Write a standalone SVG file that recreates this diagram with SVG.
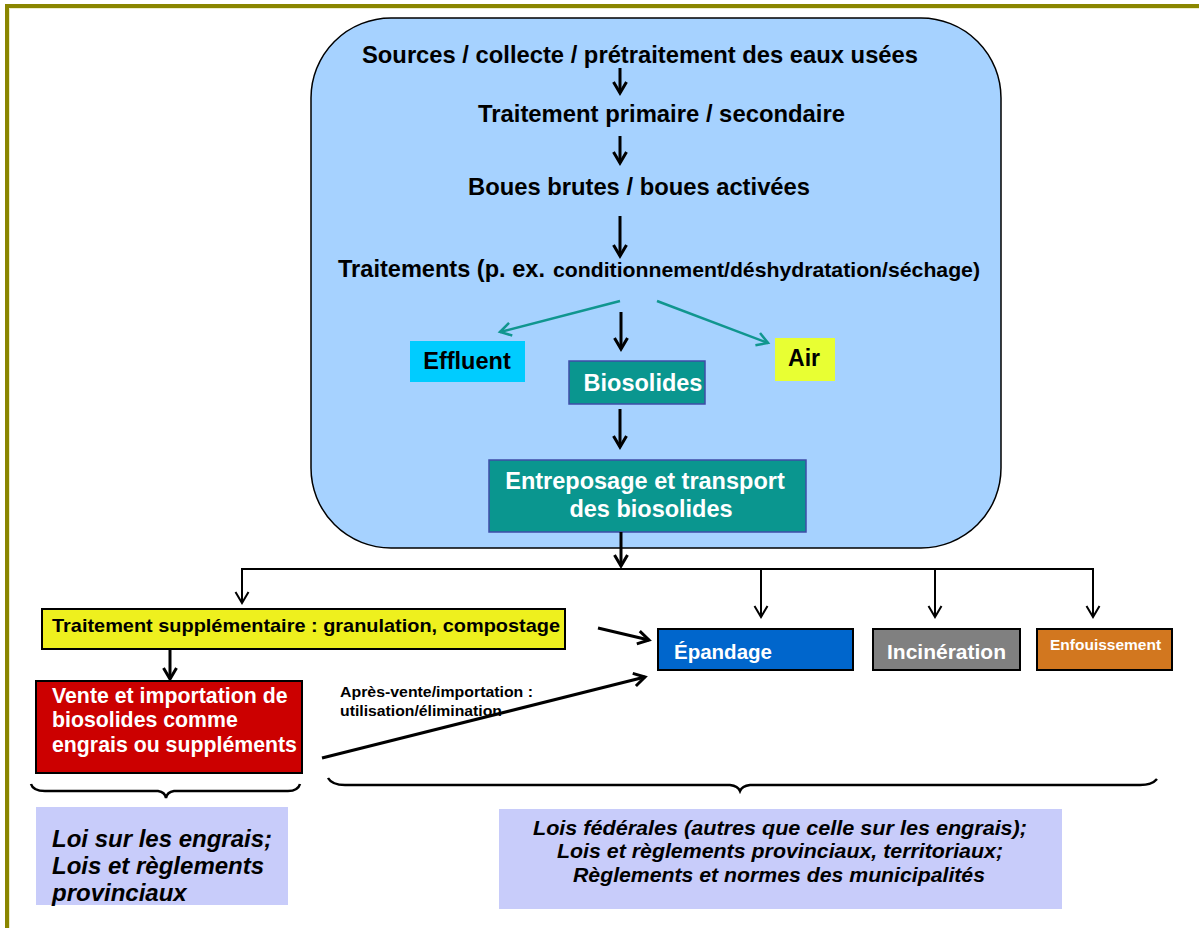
<svg xmlns="http://www.w3.org/2000/svg" width="1199" height="928" viewBox="0 0 1199 928">
<defs>
<style>
.h{font-family:"Liberation Sans",Arial,sans-serif;font-weight:bold;fill:#000}
.w{font-family:"Liberation Sans",Arial,sans-serif;font-weight:bold;fill:#fff}
.law{font-family:"Liberation Sans",Arial,sans-serif;font-weight:bold;font-style:italic;fill:#000}
.conn{stroke:#000;fill:none}
.thick{stroke-width:3}
.thin{stroke-width:2}
.teal{stroke:#10968F;stroke-width:2.5;fill:none}
</style>
<marker id="ak" markerUnits="userSpaceOnUse" markerWidth="16" markerHeight="16" refX="13" refY="8" orient="auto">
<path d="M2,1.5 L13,8 L2,14.5" fill="none" stroke="#000" stroke-width="3"/>
</marker>
<marker id="an" markerUnits="userSpaceOnUse" markerWidth="16" markerHeight="16" refX="13" refY="8" orient="auto">
<path d="M2,1.5 L13,8 L2,14.5" fill="none" stroke="#000" stroke-width="2"/>
</marker>
<marker id="at" markerUnits="userSpaceOnUse" markerWidth="16" markerHeight="16" refX="13" refY="8" orient="auto">
<path d="M2,1.5 L13,8 L2,14.5" fill="none" stroke="#10968F" stroke-width="2.5"/>
</marker>
</defs>
<rect width="1199" height="928" fill="#fff"/>
<path d="M7,930 L7,6 L1201,6" fill="none" stroke="#8A8600" stroke-width="4"/>
<path d="M9.5,930 L9.5,8.5 L1201,8.5" fill="none" stroke="#EDEDC8" stroke-width="1"/>

<g id="process-box">
<rect x="311" y="18" width="690" height="530" rx="80" ry="80" fill="#A6D2FF" stroke="#000" stroke-width="1.5"/>
</g>
<g id="sources"><text class="h" x="362" y="63" font-size="24" textLength="556" lengthAdjust="spacingAndGlyphs">Sources / collecte / prétraitement des eaux usées</text></g>
<g id="traitement-primaire"><text class="h" x="478" y="122" font-size="24" textLength="367" lengthAdjust="spacingAndGlyphs">Traitement primaire / secondaire</text></g>
<g id="boues"><text class="h" x="468" y="195" font-size="24" textLength="342" lengthAdjust="spacingAndGlyphs">Boues brutes / boues activées</text></g>
<g id="traitements">
<text class="h" x="338" y="277" font-size="24" textLength="207" lengthAdjust="spacingAndGlyphs">Traitements (p. ex.</text>
<text class="h" x="553" y="277" font-size="21" textLength="427" lengthAdjust="spacingAndGlyphs">conditionnement/déshydratation/séchage)</text>
</g>
<g id="effluent">
<rect x="410" y="341" width="115" height="41" fill="#00CCFF"/>
<text class="h" x="467" y="369" font-size="23.5" text-anchor="middle">Effluent</text>
</g>
<g id="air">
<rect x="775" y="338" width="60" height="43" fill="#E8FF33"/>
<text class="h" x="804" y="366" font-size="23" text-anchor="middle">Air</text>
</g>
<g id="biosolides">
<rect x="569" y="361" width="136" height="43" fill="#0A968F" stroke="#3F4CA8" stroke-width="1.5"/>
<text class="w" x="643" y="391" font-size="23.5" text-anchor="middle">Biosolides</text>
</g>
<g id="entreposage">
<rect x="489" y="460" width="317" height="72" fill="#0A968F" stroke="#3F4CA8" stroke-width="1.5"/>
<text class="w" x="645" y="489" font-size="23.5" text-anchor="middle">Entreposage et transport</text>
<text class="w" x="651" y="517" font-size="23.5" text-anchor="middle">des biosolides</text>
</g>
<g id="traitement-supp">
<rect x="42" y="609" width="523" height="40" fill="#EEF01E" stroke="#000" stroke-width="2"/>
<text class="h" x="52" y="632" font-size="19" textLength="508" lengthAdjust="spacingAndGlyphs">Traitement supplémentaire : granulation, compostage</text>
</g>
<g id="vente">
<rect x="36" y="681" width="266" height="92" fill="#CC0000" stroke="#000" stroke-width="2"/>
<text class="w" x="52" y="703" font-size="21.3">Vente et importation de</text>
<text class="w" x="52" y="727" font-size="21.3">biosolides comme</text>
<text class="w" x="52" y="752" font-size="21.3">engrais ou suppléments</text>
</g>
<g id="apres-vente">
<text class="h" x="340" y="697" font-size="15" textLength="193" lengthAdjust="spacingAndGlyphs">Après-vente/importation :</text>
<text class="h" x="340" y="716" font-size="15" textLength="162" lengthAdjust="spacingAndGlyphs">utilisation/élimination</text>
</g>
<g id="epandage">
<rect x="658" y="629" width="195" height="41" fill="#0066CC" stroke="#000" stroke-width="2"/>
<text class="w" x="674" y="659" font-size="20.5">Épandage</text>
</g>
<g id="incineration">
<rect x="873" y="629" width="147" height="41" fill="#808080" stroke="#000" stroke-width="2"/>
<text class="w" x="887" y="659" font-size="21">Incinération</text>
</g>
<g id="enfouissement">
<rect x="1037" y="629" width="135" height="41" fill="#D2771F" stroke="#000" stroke-width="2"/>
<text class="w" x="1050" y="650" font-size="15.5">Enfouissement</text>
</g>
<g id="loi-engrais">
<rect x="36" y="807" width="252" height="98" fill="#C8CCFA"/>
<text class="law" x="52" y="847" font-size="24">Loi sur les engrais;</text>
<text class="law" x="52" y="874" font-size="24">Lois et règlements</text>
<text class="law" x="52" y="901" font-size="24">provinciaux</text>
</g>
<g id="lois-federales">
<rect x="499" y="809" width="563" height="100" fill="#C8CCFA"/>
<text class="law" x="780" y="835" font-size="20.5" text-anchor="middle" textLength="494" lengthAdjust="spacingAndGlyphs">Lois fédérales (autres que celle sur les engrais);</text>
<text class="law" x="780" y="858" font-size="20.5" text-anchor="middle" textLength="446" lengthAdjust="spacingAndGlyphs">Lois et règlements provinciaux, territoriaux;</text>
<text class="law" x="779" y="882" font-size="20.5" text-anchor="middle" textLength="412" lengthAdjust="spacingAndGlyphs">Règlements et normes des municipalités</text>
</g>

<g id="connectors">
<line class="conn thick" x1="620" y1="68" x2="620" y2="93" marker-end="url(#ak)"/>
<line class="conn thick" x1="620" y1="136" x2="620" y2="163" marker-end="url(#ak)"/>
<line class="conn thick" x1="620" y1="216" x2="620" y2="256" marker-end="url(#ak)"/>
<line class="teal" x1="620" y1="301" x2="500" y2="332" marker-end="url(#at)"/>
<line class="teal" x1="657" y1="301" x2="768" y2="343" marker-end="url(#at)"/>
<line class="conn thick" x1="621" y1="312" x2="621" y2="349" marker-end="url(#ak)"/>
<line class="conn thick" x1="620" y1="409" x2="620" y2="447" marker-end="url(#ak)"/>
<line class="conn thick" x1="621" y1="532" x2="621" y2="566" marker-end="url(#ak)"/>
<polyline class="conn thin" points="242,603 242,569 1093,569 1093,617" marker-end="url(#an)"/>
<line class="conn thin" x1="242" y1="575" x2="242" y2="603" marker-end="url(#an)"/>
<line class="conn thin" x1="761" y1="569" x2="761" y2="617" marker-end="url(#an)"/>
<line class="conn thin" x1="935" y1="569" x2="935" y2="617" marker-end="url(#an)"/>
<line class="conn thick" x1="170" y1="650" x2="170" y2="679" marker-end="url(#ak)"/>
<line class="conn thick" x1="598" y1="628" x2="649" y2="640" marker-end="url(#ak)"/>
<line class="conn thick" x1="322" y1="758" x2="645" y2="677" marker-end="url(#ak)"/>
<path class="conn" stroke-width="2.5" d="M31,784 Q33,791 45,791 L158,791 Q165,792 166,798 Q167,792 174,791 L288,791 Q298,791 300,784"/>
<path class="conn" stroke-width="2.5" d="M328,778 Q332,785 345,785 L730,785 Q738,786 740,791 Q742,786 750,785 L1140,785 Q1152,785 1157,779"/>
</g>
</svg>
